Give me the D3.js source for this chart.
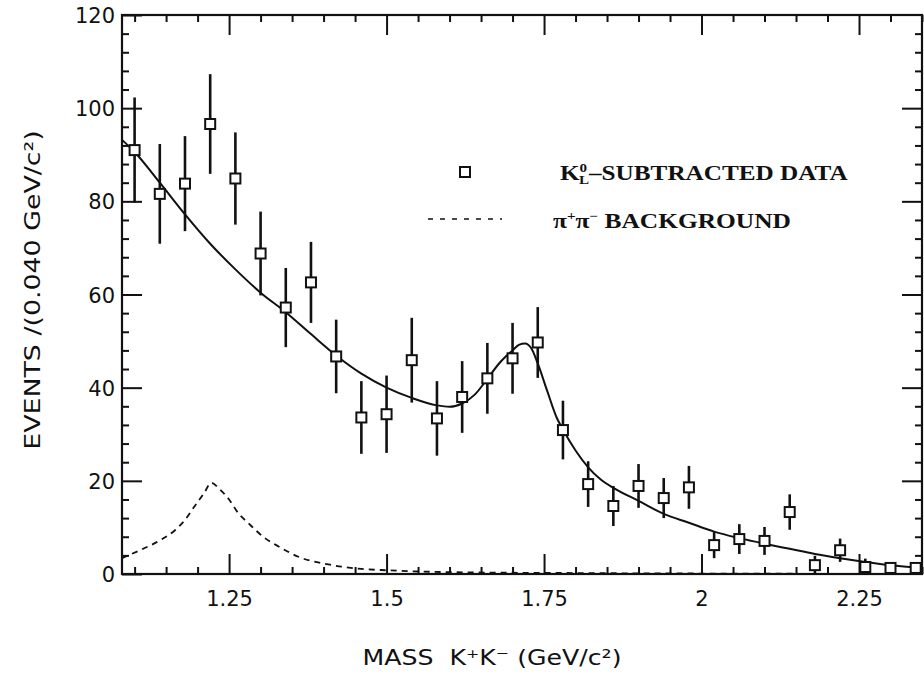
<!DOCTYPE html>
<html>
<head>
<meta charset="utf-8">
<script src="https://cdn.jsdelivr.net/npm/d3@7"></script>
<style>
body { margin: 0; background: #fff; }
svg { display: block; }
</style>
</head>
<body>
<svg id="chart" width="924" height="675"></svg>
<script>
// K+K- mass spectrum, K_L^0 subtracted, 0.040 GeV bins
var massBins = [1.10, 1.14, 1.18, 1.22, 1.26, 1.30, 1.34, 1.38, 1.42, 1.46, 1.50, 1.54, 1.58, 1.62, 1.66, 1.70,
                1.74, 1.78, 1.82, 1.86, 1.90, 1.94, 1.98, 2.02, 2.06, 2.10, 2.14, 2.18, 2.22, 2.26, 2.30, 2.34];
var counts   = [91.0, 81.6, 83.8, 96.6, 84.9, 68.8, 57.2, 62.6, 46.7, 33.6, 34.3, 45.9, 33.4, 38.0, 42.0, 46.3,
                49.7, 30.9, 19.3, 14.6, 18.9, 16.3, 18.6, 6.2, 7.5, 7.1, 13.3, 1.9, 5.1, 1.5, 1.3, 1.3];
var errors   = [11.3, 10.7, 10.2, 10.7, 9.9, 9.0, 8.5, 8.7, 7.9, 7.8, 8.3, 9.1, 8.0, 7.7, 7.6, 7.6,
                7.6, 6.3, 4.9, 4.3, 4.7, 4.3, 4.6, 2.8, 3.2, 3.0, 3.8, 2.0, 2.5, 1.8, 1.0, 1.0];

// fitted curve
var fitMass   = [1.08, 1.10, 1.14, 1.18, 1.22, 1.26, 1.30, 1.34, 1.38, 1.42, 1.46, 1.50, 1.54, 1.58, 1.60, 1.62,
                 1.64, 1.66, 1.68, 1.70, 1.71, 1.72, 1.73, 1.74, 1.755, 1.77, 1.78, 1.80, 1.82, 1.84, 1.86, 1.90,
                 1.94, 1.98, 2.02, 2.06, 2.10, 2.14, 2.18, 2.22, 2.26, 2.30, 2.35];
var fitCounts = [93.2, 90.6, 84.0, 77.2, 70.9, 65.4, 60.4, 56.2, 51.5, 46.9, 43.0, 40.0, 37.8, 36.2, 35.9, 36.6,
                 38.5, 41.9, 45.4, 48.0, 49.2, 49.5, 48.4, 45.2, 39.3, 33.6, 31.0, 26.5, 22.9, 20.3, 18.5, 15.7,
                 12.9, 11.0, 9.1, 7.7, 6.5, 5.4, 4.3, 3.4, 2.6, 1.9, 1.3];

// pi+pi- background
var bgMass   = [1.08, 1.11, 1.14, 1.165, 1.18, 1.195, 1.21, 1.222, 1.235, 1.25, 1.265, 1.28, 1.305, 1.33,
                1.36, 1.41, 1.46, 1.50, 1.60, 1.80, 2.00, 2.35];
var bgCounts = [3.4, 5.2, 7.2, 9.5, 11.6, 14.5, 17.3, 19.6, 18.2, 16.0, 13.0, 11.0, 7.9, 5.8,
                3.7, 2.0, 1.1, 0.8, 0.4, 0.2, 0.1, 0.0];

var xTicks = [1.25, 1.5, 1.75, 2, 2.25];
var xTickLabels = ["1.25", "1.5", "1.75", "2", "2.25"];
var yTicks = [0, 20, 40, 60, 80, 100, 120];
var yTickLabels = ["0", "20", "40", "60", "80", "100", "120"];

var svg = d3.select("#chart"),
    margin = {left: 122, right: 2, top: 15, bottom: 101},
    width = +svg.attr("width") - margin.left - margin.right,
    height = +svg.attr("height") - margin.top - margin.bottom;

var x = d3.scaleLinear().domain([1.08, 2.35]).range([margin.left, margin.left + width]);
var y = d3.scaleLinear().domain([0, 120]).range([margin.top + height, margin.top]);

var ink = "#111";
var axisFont = "'DejaVu Sans', sans-serif";
var legendFont = "'Liberation Serif', 'DejaVu Serif', serif";

var minorX = x.ticks(25).filter(d => !xTicks.some(t => Math.abs(t - d) < 1e-6));
var minorY = d3.range(0, 121, 4).filter(d => d % 20 !== 0);

function drawTicks(axis, transform) {
    var g = svg.append("g").attr("transform", transform).call(axis);
    g.select(".domain").remove();
    g.selectAll(".tick line").attr("stroke", ink).attr("stroke-width", 2);
    return g;
}

// minor ticks on all four sides
drawTicks(d3.axisBottom(x).tickValues(minorX).tickSize(-7).tickFormat(""), "translate(0," + y(0) + ")");
drawTicks(d3.axisTop(x).tickValues(minorX).tickSize(-7).tickFormat(""), "translate(0," + y(120) + ")");
drawTicks(d3.axisLeft(y).tickValues(minorY).tickSize(-7).tickFormat(""), "translate(" + x(1.08) + ",0)");
drawTicks(d3.axisRight(y).tickValues(minorY).tickSize(-7).tickFormat(""), "translate(" + x(2.35) + ",0)");

// major ticks
var xAxisG = drawTicks(d3.axisBottom(x).tickValues(xTicks).tickSize(-20).tickFormat((d, i) => xTickLabels[i]),
    "translate(0," + y(0) + ")");
xAxisG.selectAll(".tick text")
    .attr("y", 32).attr("dy", 0)
    .attr("fill", ink)
    .style("font-family", axisFont).style("font-size", "21px");

drawTicks(d3.axisTop(x).tickValues(xTicks).tickSize(-20).tickFormat(""), "translate(0," + y(120) + ")");

var yAxisG = drawTicks(d3.axisLeft(y).tickValues(yTicks).tickSize(-20).tickFormat((d, i) => yTickLabels[i]),
    "translate(" + x(1.08) + ",0)");
yAxisG.selectAll(".tick text")
    .attr("x", -7).attr("dy", "0.36em")
    .attr("fill", ink)
    .style("font-family", axisFont).style("font-size", "21px");

drawTicks(d3.axisRight(y).tickValues(yTicks.filter(d => d > 0 && d < 120)).tickSize(-20).tickFormat(""),
    "translate(" + x(2.35) + ",0)");

// frame
svg.append("rect")
    .attr("x", x(1.08))
    .attr("y", y(120))
    .attr("width", x(2.35) - x(1.08))
    .attr("height", y(0) - y(120))
    .attr("fill", "none")
    .attr("stroke", ink)
    .attr("stroke-width", 2.2);

// background (dashed) and fit (solid)
var bgLine = d3.line().x((d, i) => x(bgMass[i])).y(d => y(d)).curve(d3.curveMonotoneX);
svg.append("path")
    .attr("d", bgLine(bgCounts))
    .attr("fill", "none")
    .attr("stroke", ink)
    .attr("stroke-width", 1.8)
    .attr("stroke-dasharray", "6,5");

var fitLine = d3.line().x((d, i) => x(fitMass[i])).y(d => y(d)).curve(d3.curveMonotoneX);
svg.append("path")
    .attr("d", fitLine(fitCounts))
    .attr("fill", "none")
    .attr("stroke", ink)
    .attr("stroke-width", 2);

// error bars then squares
var pts = svg.append("g");
pts.selectAll(".err")
    .data(counts)
    .enter().append("line")
    .classed("err", true)
    .attr("x1", (d, i) => x(massBins[i]))
    .attr("x2", (d, i) => x(massBins[i]))
    .attr("y1", (d, i) => y(d + errors[i]))
    .attr("y2", (d, i) => y(Math.max(0, d - errors[i])))
    .attr("stroke", ink)
    .attr("stroke-width", 2.6);

var sq = 10;
pts.selectAll(".pt")
    .data(counts)
    .enter().append("rect")
    .classed("pt", true)
    .attr("x", (d, i) => x(massBins[i]) - sq / 2)
    .attr("y", d => y(d) - sq / 2)
    .attr("width", sq)
    .attr("height", sq)
    .attr("fill", "#fff")
    .attr("stroke", ink)
    .attr("stroke-width", 2);

// legend
svg.append("rect")
    .attr("x", 460).attr("y", 167)
    .attr("width", sq).attr("height", sq)
    .attr("fill", "#fff").attr("stroke", ink).attr("stroke-width", 2);

svg.append("line")
    .attr("x1", 428).attr("x2", 502)
    .attr("y1", 219).attr("y2", 219)
    .attr("stroke", ink).attr("stroke-width", 1.6)
    .attr("stroke-dasharray", "5,7");

var leg1 = svg.append("text")
    .attr("transform", "translate(560,180) scale(1.26,1)")
    .attr("fill", ink)
    .style("font-family", legendFont).style("font-size", "20px").style("font-weight", "bold");
leg1.append("tspan").text("K");
leg1.append("tspan").attr("dy", -8).style("font-size", "12px").text("0");
leg1.append("tspan").attr("dx", -6.5).attr("dy", 12).style("font-size", "12px").text("L");
leg1.append("tspan").attr("dy", -4).text("\u2013SUBTRACTED DATA");

var leg2 = svg.append("text")
    .attr("transform", "translate(553,228) scale(1.27,1)")
    .attr("fill", ink)
    .style("font-family", legendFont).style("font-size", "20px").style("font-weight", "bold");
leg2.append("tspan").text("\u03c0");
leg2.append("tspan").attr("dy", -8).style("font-size", "12px").text("+");
leg2.append("tspan").attr("dy", 8).text("\u03c0");
leg2.append("tspan").attr("dy", -8).style("font-size", "12px").text("\u2212");
leg2.append("tspan").attr("dy", 8).text(" BACKGROUND");

// axis titles
svg.append("text")
    .attr("transform", "translate(492,665) scale(1.2,1)")
    .attr("text-anchor", "middle")
    .attr("fill", ink)
    .style("white-space", "pre")
    .style("font-family", axisFont).style("font-size", "21px")
    .text("MASS  K\u207aK\u207b (GeV/c\u00b2)");

svg.append("text")
    .attr("transform", "translate(40,290) rotate(-90) scale(1.22,1)")
    .attr("text-anchor", "middle")
    .attr("fill", ink)
    .style("white-space", "pre")
    .style("font-family", axisFont).style("font-size", "22px")
    .text("EVENTS /(0.040 GeV/c\u00b2)");
</script>
</body>
</html>
